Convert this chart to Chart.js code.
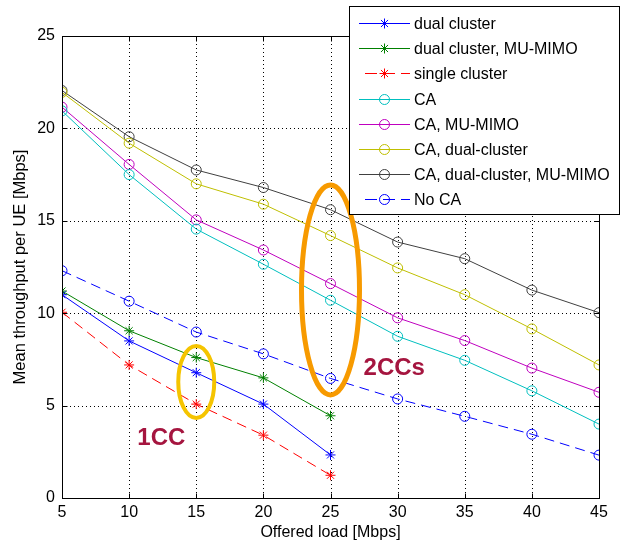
<!DOCTYPE html>
<html><head><meta charset="utf-8">
<script src="https://cdn.jsdelivr.net/npm/chart.js@4/dist/chart.umd.min.js"></script>
<style>html,body{margin:0;padding:0;background:#fff}#wrap{width:629px;height:548px;position:relative}</style>
</head><body><div id="wrap"><canvas id="c"></canvas></div>
<script>
// ---- data ----
const loads = [5, 10, 15, 20, 25, 30, 35, 40, 45];
const yTicks = [0, 5, 10, 15, 20, 25];
const seriesNames = ['dual cluster', 'dual cluster, MU-MIMO', 'single cluster', 'CA', 'CA, MU-MIMO', 'CA, dual-cluster', 'CA, dual-cluster, MU-MIMO', 'No CA'];
const dualCluster       = [11.0, 8.5, 6.78, 5.08, 2.33];
const dualClusterMuMimo = [11.2, 9.05, 7.6, 6.5, 4.45];
const singleCluster     = [10.05, 7.2, 5.08, 3.4, 1.23];
const ca                = [20.95, 17.5, 14.55, 12.65, 10.7, 8.75, 7.45, 5.8, 4.0];
const caMuMimo          = [21.15, 18.05, 15.05, 13.42, 11.6, 9.75, 8.52, 7.03, 5.72];
const caDual            = [21.95, 19.2, 17.0, 15.9, 14.2, 12.45, 11.0, 9.15, 7.2];
const caDualMuMimo      = [22.05, 19.55, 17.75, 16.8, 15.6, 13.85, 12.95, 11.25, 10.03];
const noCa              = [12.3, 10.65, 8.98, 7.8, 6.47, 5.36, 4.42, 3.45, 2.32];
// annotations (data coordinates)
const ellipseNotes = [
  {x: 25, y: 11.26, rx: 2.16, ry: 5.68, color: '#f79a00', width: 5},
  {x: 15, y: 6.28, rx: 1.34, ry: 1.95, color: '#f5c400', width: 4}
];
const textNotes = [
  {text: '1CC', x: 12.4, y: 3.2},
  {text: '2CCs', x: 29.75, y: 7.0}
];

const FONT = '"Liberation Sans", Arial, Helvetica, sans-serif';
const styles = [
  {color: '#0000ff', marker: 'star', dash: []},
  {color: '#008000', marker: 'star', dash: []},
  {color: '#ff0000', marker: 'star', dash: [10, 6]},
  {color: '#00bfbf', marker: 'circle', dash: []},
  {color: '#bf00bf', marker: 'circle', dash: []},
  {color: '#bfbf00', marker: 'circle', dash: []},
  {color: '#404040', marker: 'circle', dash: []},
  {color: '#0000ff', marker: 'circle', dash: [10, 6]}
];
const values = [dualCluster, dualClusterMuMimo, singleCluster, ca, caMuMimo, caDual, caDualMuMimo, noCa];

const datasets = values.map((vals, i) => ({
  label: seriesNames[i],
  data: vals.map((v, j) => ({x: loads[j], y: v})),
  borderColor: styles[i].color,
  backgroundColor: 'rgba(0,0,0,0)',
  borderWidth: 1,
  borderDash: styles[i].dash,
  pointStyle: styles[i].marker === 'star' ? 'star' : 'circle',
  pointRadius: 5,
  pointBorderWidth: 1,
  pointBorderColor: styles[i].color,
  pointBackgroundColor: 'rgba(0,0,0,0)',
  tension: 0,
  fill: false
}));

function drawMarker(ctx, type, x, y, r, color) {
  ctx.save();
  ctx.setLineDash([]);
  ctx.strokeStyle = color; ctx.lineWidth = 1;
  ctx.beginPath();
  if (type === 'circle') {
    ctx.arc(x, y, r, 0, Math.PI * 2);
  } else {
    ctx.moveTo(x - r, y); ctx.lineTo(x + r, y);
    ctx.moveTo(x, y - r); ctx.lineTo(x, y + r);
    const d = r * 0.707;
    ctx.moveTo(x - d, y - d); ctx.lineTo(x + d, y + d);
    ctx.moveTo(x - d, y + d); ctx.lineTo(x + d, y - d);
  }
  ctx.stroke();
  ctx.restore();
}

const framePlugin = {
  id: 'frame',
  beforeDatasetsDraw(chart) {
    const {ctx, chartArea: a, scales: {x, y}} = chart;
    ctx.save();
    ctx.strokeStyle = '#000'; ctx.lineWidth = 1;
    ctx.setLineDash([1, 3]);
    loads.forEach(v => {
      const px = Math.round(x.getPixelForValue(v)) + 0.5;
      if (px > a.left + 1 && px < a.right - 1) {
        ctx.beginPath(); ctx.moveTo(px, a.top); ctx.lineTo(px, a.bottom); ctx.stroke();
      }
    });
    yTicks.forEach(v => {
      const py = Math.round(y.getPixelForValue(v)) + 0.5;
      if (py > a.top + 1 && py < a.bottom - 1) {
        ctx.beginPath(); ctx.moveTo(a.left, py); ctx.lineTo(a.right, py); ctx.stroke();
      }
    });
    ctx.restore();
  },
  afterDatasetsDraw(chart) {
    const {ctx, chartArea: a, scales: {x, y}} = chart;
    ctx.save();
    ctx.setLineDash([]);
    ctx.strokeStyle = '#000'; ctx.lineWidth = 1;
    const L = Math.round(a.left) + 0.5, R = Math.round(a.right) + 0.5, T = Math.round(a.top) + 0.5, B = Math.round(a.bottom) + 0.5;
    ctx.strokeRect(L, T, R - L, B - T);
    const tl = 5;
    ctx.beginPath();
    loads.forEach(v => {
      const px = Math.round(x.getPixelForValue(v)) + 0.5;
      ctx.moveTo(px, B); ctx.lineTo(px, B - tl);
      ctx.moveTo(px, T); ctx.lineTo(px, T + tl);
    });
    yTicks.forEach(v => {
      const py = Math.round(y.getPixelForValue(v)) + 0.5;
      ctx.moveTo(L, py); ctx.lineTo(L + tl, py);
      ctx.moveTo(R, py); ctx.lineTo(R - tl, py);
    });
    ctx.stroke();
    // annotations
    ellipseNotes.forEach(e => {
      const cx = x.getPixelForValue(e.x), cy = y.getPixelForValue(e.y);
      const rx = Math.abs(x.getPixelForValue(e.x + e.rx) - cx);
      const ry = Math.abs(y.getPixelForValue(e.y + e.ry) - cy);
      ctx.beginPath();
      ctx.ellipse(cx, cy, rx, ry, 0, 0, Math.PI * 2);
      ctx.strokeStyle = e.color; ctx.lineWidth = e.width;
      ctx.stroke();
    });
    ctx.fillStyle = '#a5153f';
    ctx.font = 'bold 24px ' + FONT;
    ctx.textAlign = 'center'; ctx.textBaseline = 'middle';
    textNotes.forEach(t => ctx.fillText(t.text, x.getPixelForValue(t.x), y.getPixelForValue(t.y)));
    ctx.restore();
  },
  afterDraw(chart) {
    const {ctx} = chart;
    ctx.save();
    const bx = 349.5, by = 6.5, bw = 270, bh = 208;
    ctx.fillStyle = '#fff';
    ctx.fillRect(bx, by, bw, bh);
    ctx.strokeStyle = '#000'; ctx.lineWidth = 1; ctx.setLineDash([]);
    ctx.strokeRect(bx, by, bw, bh);
    ctx.font = '16px ' + FONT;
    ctx.textBaseline = 'middle'; ctx.textAlign = 'left';
    chart.data.datasets.forEach((ds, i) => {
      const ey = Math.round(23 + i * 25.2) + 0.5;
      ctx.save();
      ctx.strokeStyle = styles[i].color; ctx.lineWidth = 1;
      ctx.setLineDash(styles[i].dash.length ? [12, 6] : []);
      ctx.beginPath();
      ctx.moveTo(styles[i].dash.length ? 365 : 359, ey); ctx.lineTo(410, ey);
      ctx.stroke();
      ctx.restore();
      drawMarker(ctx, styles[i].marker, 384.5, ey, 5, styles[i].color);
      ctx.fillStyle = '#000';
      ctx.fillText(ds.label, 414, ey + 1);
    });
    ctx.restore();
  }
};

new Chart(document.getElementById('c'), {
  type: 'line',
  data: {datasets},
  options: {
    responsive: true,
    maintainAspectRatio: false,
    animation: false,
    devicePixelRatio: 1,
    layout: {padding: {top: 36, right: 30, left: 0, bottom: 0}},
    plugins: {legend: {display: false}, tooltip: {enabled: false}},
    elements: {line: {borderCapStyle: 'butt'}},
    scales: {
      x: {
        type: 'linear', min: 5, max: 45,
        afterBuildTicks: s => { s.ticks = loads.map(v => ({value: v})); },
        afterFit: s => { s.height = 50; },
        grid: {display: false, drawTicks: false},
        border: {display: false},
        ticks: {color: '#000', padding: 5, font: {family: FONT, size: 16}, maxRotation: 0, autoSkip: false},
        title: {display: true, text: 'Offered load [Mbps]', color: '#000', font: {family: FONT, size: 16}, padding: {top: 0, bottom: 6}}
      },
      y: {
        type: 'linear', min: 0, max: 25,
        afterBuildTicks: s => { s.ticks = yTicks.map(v => ({value: v})); },
        afterFit: s => { s.width = 62; },
        grid: {display: false, drawTicks: false},
        border: {display: false},
        ticks: {color: '#000', padding: 7, font: {family: FONT, size: 16}},
        title: {display: true, text: 'Mean throughput per UE [Mbps]', color: '#000', font: {family: FONT, size: 16.5}, padding: {top: 11, bottom: 0}}
      }
    }
  },
  plugins: [framePlugin]
});
</script>
</body></html>
